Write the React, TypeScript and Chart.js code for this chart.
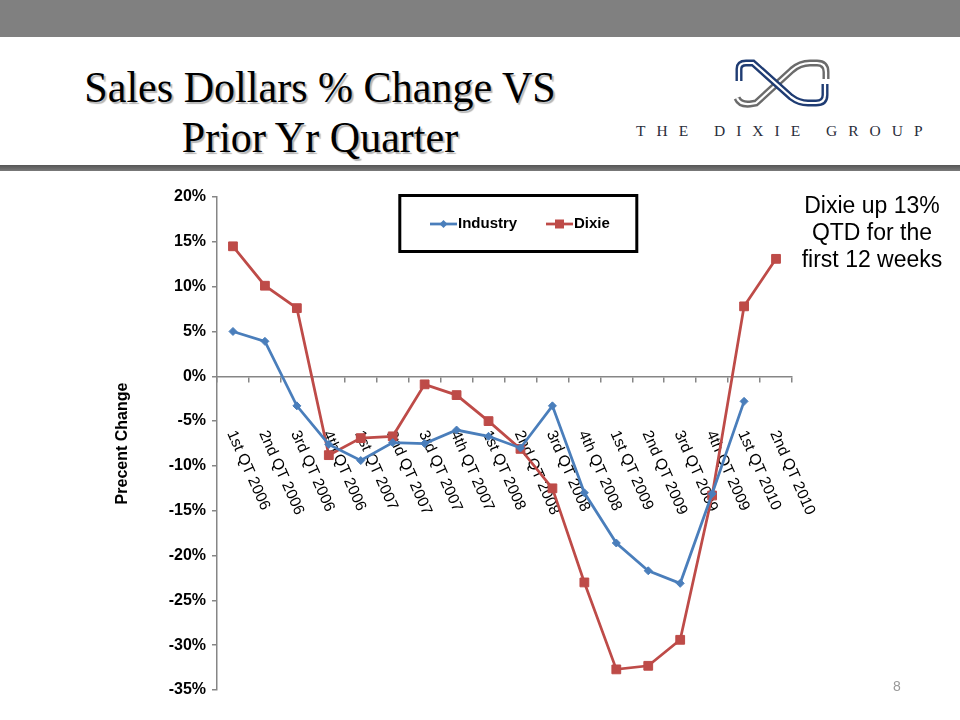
import React, { useEffect, useRef } from 'react';
import { Chart, registerables } from 'chart.js';

Chart.register(...registerables);

// ---- Data ----
const categories = [
  '1st QT 2006', '2nd QT 2006', '3rd QT 2006', '4th QT 2006',
  '1st QT 2007', '2nd QT 2007', '3rd QT 2007', '4th QT 2007',
  '1st QT 2008', '2nd QT 2008', '3rd QT 2008', '4th QT 2008',
  '1st QT 2009', '2nd QT 2009', '3rd QT 2009', '4th QT 2009',
  '1st QT 2010', '2nd QT 2010',
];
const industry = [5.0, 3.9, -3.3, -7.6, -9.4, -7.4, -7.5, -6.0, -6.7, -8.0, -3.3, -13.0, -18.6, -21.7, -23.1, -13.1, -2.8, null];
const dixie = [14.5, 10.1, 7.6, -8.8, -6.9, -6.7, -0.9, -2.1, -5.0, -8.1, -12.5, -23.0, -32.7, -32.3, -29.4, -13.3, 7.8, 13.1];
const seriesNames = ['Industry', 'Dixie'];
const yMin = -35;
const yMax = 20;
const yStep = 5;
const yTitle = 'Precent Change';
const titleLines = ['Sales Dollars % Change VS', 'Prior Yr Quarter'];
const noteLines = ['Dixie up 13%', 'QTD for the', 'first 12 weeks'];
const companyName = 'THE DIXIE GROUP';
const pageNumber = '8';

const BLUE = '#4A7EBB';
const RED = '#BE4B48';
const AXIS = '#868686';
const SANS = '"Liberation Sans", Arial, sans-serif';
const SERIF = '"Liberation Serif", "Times New Roman", serif';

const xLabelPlugin = {
  id: 'rotatedXLabels',
  beforeDatasetsDraw(chart: any) {
    const { ctx } = chart;
    const xs = chart.scales.x;
    const ys = chart.scales.y;
    const y0 = ys.getPixelForValue(0);
    ctx.save();
    ctx.font = `15.5px ${SANS}`;
    ctx.fillStyle = '#000';
    ctx.textAlign = 'left';
    ctx.textBaseline = 'top';
    categories.forEach((c, i) => {
      const px = xs.getPixelForValue(i);
      ctx.save();
      ctx.translate(px + 5, y0 + 52);
      ctx.rotate((66 * Math.PI) / 180);
      ctx.fillText(c, 0, 0);
      ctx.restore();
    });
    ctx.restore();
  },
};

const legendPlugin = {
  id: 'boxedLegend',
  afterDraw(chart: any) {
    const { ctx } = chart;
    ctx.save();
    ctx.lineWidth = 3;
    ctx.strokeStyle = '#000';
    ctx.strokeRect(399.8, 195.5, 237, 56);
    const cy = 224;
    const items = [
      { x0: 430, x1: 457, tx: 458 },
      { x0: 546, x1: 573, tx: 574 },
    ];
    items.forEach((it, i) => {
      const ds = chart.data.datasets[i];
      ctx.strokeStyle = ds.borderColor;
      ctx.fillStyle = ds.borderColor;
      ctx.lineWidth = 2.75;
      ctx.beginPath();
      ctx.moveTo(it.x0, cy);
      ctx.lineTo(it.x1, cy);
      ctx.stroke();
      const mx = (it.x0 + it.x1) / 2;
      ctx.beginPath();
      if (i === 0) {
        const r = 4;
        ctx.moveTo(mx - r, cy);
        ctx.lineTo(mx, cy - r);
        ctx.lineTo(mx + r, cy);
        ctx.lineTo(mx, cy + r);
        ctx.closePath();
      } else {
        ctx.rect(mx - 4.5, cy - 4.5, 9, 9);
      }
      ctx.fill();
      ctx.fillStyle = '#000';
      ctx.font = `bold 15px ${SANS}`;
      ctx.textAlign = 'left';
      ctx.textBaseline = 'middle';
      ctx.fillText(seriesNames[i], it.tx, cy);
    });
    ctx.restore();
  },
};

function Logo() {
  const grayPath = 'M737,98 Q740,105 750,104 L756,103 L792,70 Q800,63 810,63 L817,63 Q826,63 826,72 L826,79';
  const bluePath = 'M739,81 L739,69 Q739,63 746,63 L753,63 L791,97 Q799,103 808,103 L816,103 Q825,103 825,95 L825,84';
  return (
    <svg width={960} height={180} style={{ position: 'absolute', left: 0, top: 0 }}>
      <path d={grayPath} fill="none" stroke="#6b6b6b" strokeWidth={7} />
      <path d={grayPath} fill="none" stroke="#fff" strokeWidth={2.2} />
      <path d={bluePath} fill="none" stroke="#1F3C73" strokeWidth={7} />
      <path d={bluePath} fill="none" stroke="#fff" strokeWidth={2.2} />
    </svg>
  );
}

export default function App() {
  const canvasRef = useRef<HTMLCanvasElement | null>(null);

  useEffect(() => {
    if (!canvasRef.current) return;
    const chart = new Chart(canvasRef.current, {
      type: 'line',
      data: {
        labels: categories,
        datasets: [
          {
            label: seriesNames[0],
            data: industry,
            borderColor: BLUE,
            backgroundColor: BLUE,
            borderWidth: 2.75,
            pointStyle: 'rectRot',
            pointRadius: 4,
            pointBorderWidth: 1,
            pointBackgroundColor: BLUE,
            pointBorderColor: BLUE,
            tension: 0,
            spanGaps: false,
          },
          {
            label: seriesNames[1],
            data: dixie,
            borderColor: RED,
            backgroundColor: RED,
            borderWidth: 2.75,
            pointStyle: 'rect',
            pointRadius: 6.2,
            pointBorderWidth: 1,
            pointBackgroundColor: RED,
            pointBorderColor: RED,
            tension: 0,
          },
        ],
      },
      options: {
        responsive: false,
        maintainAspectRatio: false,
        animation: false,
        events: [],
        layout: { padding: { left: 109, right: 168, top: 197, bottom: 30 } },
        plugins: {
          legend: { display: false },
          tooltip: { enabled: false },
          title: { display: false },
        },
        scales: {
          x: {
            type: 'category',
            position: { y: 0 } as any,
            offset: true,
            grid: {
              display: true,
              drawOnChartArea: false,
              drawTicks: true,
              tickLength: 5,
              color: AXIS,
              lineWidth: 1.5,
              offset: true,
            },
            border: { display: true, color: AXIS, width: 1.5 },
            ticks: { display: false },
            afterFit: (s: any) => {
              s.height = 0;
            },
          },
          y: {
            type: 'linear',
            min: yMin,
            max: yMax,
            ticks: {
              stepSize: yStep,
              callback: (v: any) => `${v}%`,
              color: '#000',
              font: { family: SANS, size: 16, weight: 'bold' },
              padding: 6,
            },
            grid: {
              drawOnChartArea: false,
              drawTicks: true,
              tickLength: 5,
              color: AXIS,
              lineWidth: 1.5,
            },
            border: { display: true, color: AXIS, width: 1.5 },
            title: {
              display: true,
              text: yTitle,
              color: '#000',
              font: { family: SANS, size: 16, weight: 'bold' },
              padding: { top: 4, bottom: 4 },
            },
            afterFit: (s: any) => {
              s.width = 108;
            },
          },
        },
      },
      plugins: [xLabelPlugin, legendPlugin],
    } as any);
    return () => chart.destroy();
  }, []);

  return (
    <div
      style={{
        position: 'fixed',
        left: 0,
        top: 0,
        width: 960,
        height: 720,
        background: '#fff',
        overflow: 'hidden',
      }}
    >
      <div style={{ position: 'absolute', left: 0, top: 0, width: 960, height: 37, background: '#808080' }} />
      <div style={{ position: 'absolute', left: 0, top: 165, width: 960, height: 6, background: 'linear-gradient(#555, #7a7a7a)' }} />
      <div
        style={{
          position: 'absolute',
          left: 0,
          top: 61.5,
          width: 640,
          textAlign: 'center',
          fontFamily: SERIF,
          fontSize: 45,
          lineHeight: '50px',
          color: '#000',
          textShadow: '2px 2px 1px #b5b5b5',
          whiteSpace: 'nowrap',
          transform: 'scaleX(0.935)',
          transformOrigin: '320px 0',
        }}
      >
        {titleLines.map((t, i) => (
          <div key={i}>{t}</div>
        ))}
      </div>
      <Logo />
      <div
        style={{
          position: 'absolute',
          left: 636,
          top: 122,
          fontFamily: SERIF,
          fontSize: 15.5,
          letterSpacing: '11px',
          color: '#2a2d3a',
          whiteSpace: 'pre',
          lineHeight: '18px',
        }}
      >
        {companyName}
      </div>
      <canvas
        ref={canvasRef}
        width={960}
        height={720}
        style={{ position: 'absolute', left: 0, top: 0, width: 960, height: 720 }}
      />
      <div
        style={{
          position: 'absolute',
          left: 782,
          top: 191.5,
          width: 180,
          textAlign: 'center',
          fontFamily: SANS,
          fontSize: 23,
          lineHeight: '27px',
          color: '#000',
          whiteSpace: 'nowrap',
        }}
      >
        {noteLines.map((t, i) => (
          <div key={i}>{t}</div>
        ))}
      </div>
      <div
        style={{
          position: 'absolute',
          left: 893,
          top: 677,
          fontFamily: SANS,
          fontSize: 14,
          lineHeight: '18px',
          color: '#999',
        }}
      >
        {pageNumber}
      </div>
    </div>
  );
}
